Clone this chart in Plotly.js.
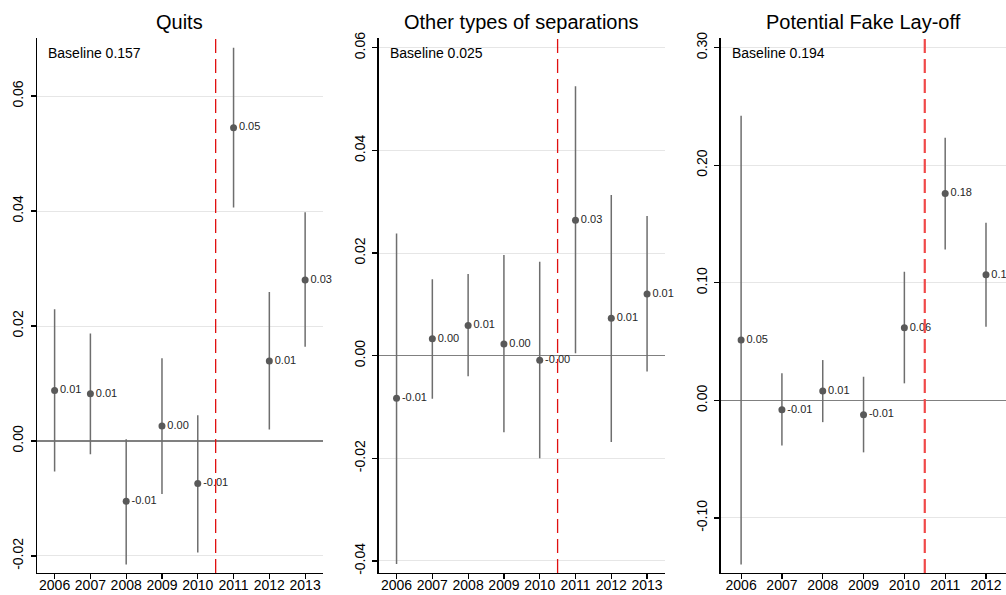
<!DOCTYPE html>
<html>
<head>
<meta charset="utf-8">
<script src="https://cdn.plot.ly/plotly-3.0.1.min.js"></script>
<style>
  html, body { margin: 0; padding: 0; background: #fff; }
  #chart { width: 1006px; height: 595px; }
</style>
</head>
<body>
<div id="chart"></div>
<script>
// Event-study coefficients by year with 95% confidence bounds
const years = [2006, 2007, 2008, 2009, 2010, 2011, 2012, 2013];
const fakeYears = [2006, 2007, 2008, 2009, 2010, 2011, 2012];

const panelTitles = ['Quits', 'Other types of separations', 'Potential Fake Lay-off'];
const baselines = ['Baseline 0.157', 'Baseline 0.025', 'Baseline 0.194'];

const quitsEst = [0.0088, 0.0082, -0.0105, 0.0026, -0.0074, 0.0545, 0.0139, 0.0280];
const quitsLo  = [-0.0053, -0.0023, -0.0215, -0.0092, -0.0194, 0.0406, 0.0020, 0.0164];
const quitsHi  = [0.0229, 0.0187, 0.0003, 0.0144, 0.0045, 0.0684, 0.0259, 0.0398];

const otherEst = [-0.0083, 0.0033, 0.0059, 0.0023, -0.0009, 0.0264, 0.0073, 0.0120];
const otherLo  = [-0.0406, -0.0084, -0.0040, -0.0149, -0.0200, 0.0005, -0.0168, -0.0031];
const otherHi  = [0.0238, 0.0149, 0.0159, 0.0196, 0.0183, 0.0525, 0.0313, 0.0272];

const fakeEst = [0.0513, -0.0080, 0.0079, -0.0122, 0.0617, 0.1760, 0.1068];
const fakeLo  = [-0.1395, -0.0383, -0.0185, -0.0442, 0.0145, 0.1284, 0.0626];
const fakeHi  = [0.2420, 0.0230, 0.0343, 0.0201, 0.1094, 0.2233, 0.1510];

const quitsTicks = [-0.02, 0, 0.02, 0.04, 0.06];
const quitsTickText = ['-0.02', '0.00', '0.02', '0.04', '0.06'];
const otherTicks = [-0.04, -0.02, 0, 0.02, 0.04, 0.06];
const otherTickText = ['-0.04', '-0.02', '0.00', '0.02', '0.04', '0.06'];
const fakeTicks = [-0.1, 0, 0.1, 0.2, 0.3];
const fakeTickText = ['-0.10', '0.00', '0.10', '0.20', '0.30'];
const yearTicks = years;
const yearTickText = years.map(String);

const reformYear = 2010.5;

const FONT = 'Arial, "Liberation Sans", Helvetica, sans-serif';

// two-decimal label that keeps the sign of small negatives
function fmt(v) {
  return (v < 0 ? '-' : '') + Math.abs(v).toFixed(2);
}

function coefTrace(x, est, lo, hi, xa, ya) {
  return {
    type: 'scatter',
    mode: 'markers+text',
    x: x,
    y: est,
    xaxis: xa,
    yaxis: ya,
    text: est.map(fmt),
    textposition: 'middle right',
    textfont: { family: FONT, size: 11, color: '#262626' },
    cliponaxis: false,
    marker: { size: 7, color: '#595959' },
    error_y: {
      type: 'data',
      symmetric: false,
      array: hi.map((h, i) => h - est[i]),
      arrayminus: lo.map((l, i) => est[i] - l),
      width: 0,
      thickness: 1.5,
      color: '#6e6e6e'
    },
    hoverinfo: 'x+y',
    showlegend: false
  };
}

const data = [
  coefTrace(years, quitsEst, quitsLo, quitsHi, 'x', 'y'),
  coefTrace(years, otherEst, otherLo, otherHi, 'x2', 'y2'),
  coefTrace(fakeYears, fakeEst, fakeLo, fakeHi, 'x3', 'y3')
];

function xAxis(domain, range, anchor) {
  return {
    domain: domain,
    range: range,
    anchor: anchor,
    tickvals: yearTicks,
    ticktext: yearTickText,
    ticks: 'outside',
    ticklen: 5,
    tickwidth: 1.2,
    tickcolor: '#000',
    ticklabelstandoff: -6,
    showline: true,
    linecolor: '#000',
    linewidth: 1.2,
    showgrid: false,
    zeroline: false,
    tickfont: { family: FONT, size: 14, color: '#000' },
    automargin: false
  };
}

function yAxis(range, vals, text, anchor) {
  return {
    range: range,
    anchor: anchor,
    tickvals: vals,
    ticktext: text,
    tickangle: -90,
    ticks: 'outside',
    ticklen: 5,
    tickwidth: 1.2,
    tickcolor: '#000',
    ticklabelstandoff: 2,
    showline: true,
    linecolor: '#000',
    linewidth: 1.2,
    showgrid: true,
    gridcolor: '#e6e6e6',
    gridwidth: 1,
    zeroline: true,
    zerolinecolor: '#808080',
    zerolinewidth: 1.4,
    tickfont: { family: FONT, size: 14, color: '#000' },
    automargin: false
  };
}

function reformLine(xref, yref, color, width) {
  return {
    type: 'line',
    xref: xref,
    yref: yref + ' domain',
    x0: reformYear, x1: reformYear,
    y0: 0, y1: 1,
    line: { color: color, width: width, dash: '14px,6px' }
  };
}

const xrefs = ['x', 'x2', 'x3'];
const annotations = [];
panelTitles.forEach((t, i) => {
  annotations.push({
    text: t, xref: xrefs[i] + ' domain', yref: 'paper',
    x: 0.5, y: 1.03, xanchor: 'center', yanchor: 'middle',
    showarrow: false, font: { family: FONT, size: 20, color: '#000' }
  });
});
const baseX = [0.0325, 0.0335, 0.0326];
baselines.forEach((t, i) => {
  annotations.push({
    text: t, xref: xrefs[i] + ' domain', yref: 'paper',
    x: baseX[i], y: 0.972, xanchor: 'left', yanchor: 'middle',
    showarrow: false, font: { family: FONT, size: 14, color: '#000' }
  });
});

const layout = {
  width: 1006,
  height: 595,
  margin: { l: 0, r: 0, t: 38, b: 22 },
  paper_bgcolor: '#fff',
  plot_bgcolor: '#fff',
  showlegend: false,
  xaxis:  xAxis([0.0365, 0.3211], [2005.5, 2013.5], 'y'),
  xaxis2: xAxis([0.3764, 0.6610], [2005.5, 2013.5], 'y2'),
  xaxis3: xAxis([0.7164, 1.0], [2005.5, 2012.49], 'y3'),
  yaxis:  yAxis([-0.02296, 0.0701], quitsTicks, quitsTickText, 'x'),
  yaxis2: yAxis([-0.04234, 0.0619], otherTicks, otherTickText, 'x2'),
  yaxis3: yAxis([-0.1468, 0.3082], fakeTicks, fakeTickText, 'x3'),
  shapes: [
    reformLine('x', 'y', '#e01010', 1.3),
    reformLine('x2', 'y2', '#e01010', 1.3),
    reformLine('x3', 'y3', '#f04848', 2.2)
  ],
  annotations: annotations
};

Plotly.newPlot('chart', data, layout, { displayModeBar: false, staticPlot: true });
</script>
</body>
</html>
